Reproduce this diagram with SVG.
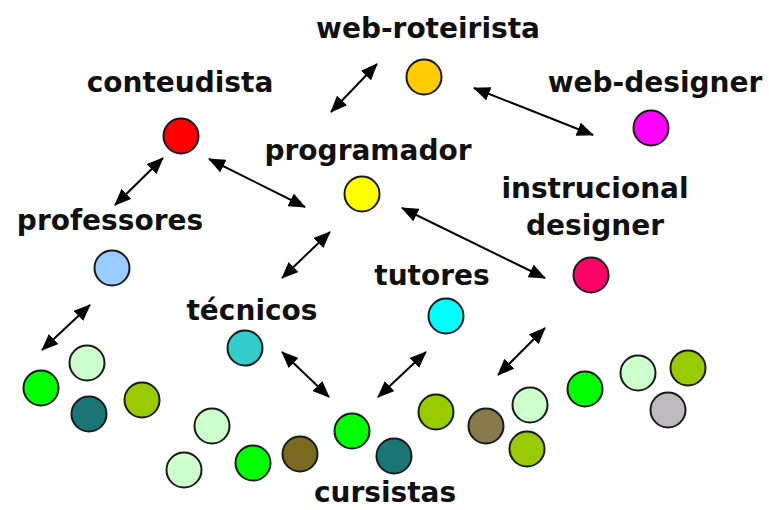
<svg xmlns="http://www.w3.org/2000/svg" width="769" height="510" viewBox="0 0 769 510">
<style>
text{font-family:"DejaVu Sans","Verdana",sans-serif;font-weight:bold;font-size:28px;fill:#111;text-anchor:middle}
circle{stroke:#1a1a1a;stroke-width:2}
.c line{stroke:#000;stroke-width:2;marker-start:url(#ah);marker-end:url(#ah)}
</style>
<defs>
<marker id="ah" viewBox="0 0 17 14" refX="16" refY="7" markerWidth="17" markerHeight="14" markerUnits="userSpaceOnUse" orient="auto-start-reverse">
<path d="M0,0 L17,7 L0,14 Z" fill="#000"/>
</marker>
</defs>
<rect width="769" height="510" fill="#fff"/>
<g id="web-roteirista"><text x="428" y="38">web-roteirista</text><circle cx="424" cy="77" r="17.5" fill="#FFCC00"/></g>
<g id="conteudista"><text x="180" y="92">conteudista</text><circle cx="181" cy="136" r="17.5" fill="#FF0000"/></g>
<g id="web-designer"><text x="655" y="92">web-designer</text><circle cx="651" cy="128" r="17.5" fill="#FF00FF"/></g>
<g id="programador"><text x="368" y="160">programador</text><circle cx="362" cy="194" r="17.5" fill="#FFFF00"/></g>
<g id="instrucional-designer"><text x="595" y="198">instrucional</text><text x="595" y="235">designer</text><circle cx="591" cy="275" r="17.5" fill="#FF0066"/></g>
<g id="professores"><text x="110" y="230">professores</text><circle cx="112" cy="268" r="17.5" fill="#99CCFF"/></g>
<g id="tutores"><text x="432" y="285">tutores</text><circle cx="446" cy="316" r="17.5" fill="#00FFFF"/></g>
<g id="tecnicos"><text x="252" y="320">técnicos</text><circle cx="245" cy="348" r="17.5" fill="#33CCCC"/></g>
<g id="cursistas">
<text x="385" y="502">cursistas</text>
<circle cx="87" cy="363" r="17.5" fill="#CCFFCC"/>
<circle cx="41" cy="388" r="17.5" fill="#00FF00"/>
<circle cx="89" cy="414" r="17.5" fill="#1A7575"/>
<circle cx="142" cy="400" r="17.5" fill="#99CC00"/>
<circle cx="212" cy="426" r="17.5" fill="#CCFFCC"/>
<circle cx="184" cy="470" r="17.5" fill="#CCFFCC"/>
<circle cx="253" cy="463" r="17.5" fill="#00FF00"/>
<circle cx="300" cy="454" r="17.5" fill="#7A6A20"/>
<circle cx="352" cy="431" r="17.5" fill="#00FF00"/>
<circle cx="394" cy="456" r="17.5" fill="#1A7575"/>
<circle cx="436" cy="412" r="17.5" fill="#99CC00"/>
<circle cx="486" cy="426" r="17.5" fill="#857A4A"/>
<circle cx="530" cy="405" r="17.5" fill="#CCFFCC"/>
<circle cx="527" cy="449" r="17.5" fill="#99CC00"/>
<circle cx="585" cy="389" r="17.5" fill="#00FF00"/>
<circle cx="638" cy="373" r="17.5" fill="#CCFFCC"/>
<circle cx="688" cy="368" r="17.5" fill="#99CC00"/>
<circle cx="668" cy="410" r="17.5" fill="#BDBBBD"/>
</g>
<g id="connectors" class="c">
<line x1="377" y1="64" x2="331" y2="112"/>
<line x1="474" y1="88" x2="593" y2="135"/>
<line x1="163" y1="158" x2="115" y2="205"/>
<line x1="209" y1="159" x2="305" y2="207"/>
<line x1="330" y1="232" x2="282" y2="278"/>
<line x1="402" y1="208" x2="545" y2="278"/>
<line x1="90" y1="305" x2="42" y2="350"/>
<line x1="282" y1="352" x2="329" y2="397"/>
<line x1="426" y1="352" x2="378" y2="397"/>
<line x1="545" y1="328" x2="498" y2="375"/>
</g>
</svg>
